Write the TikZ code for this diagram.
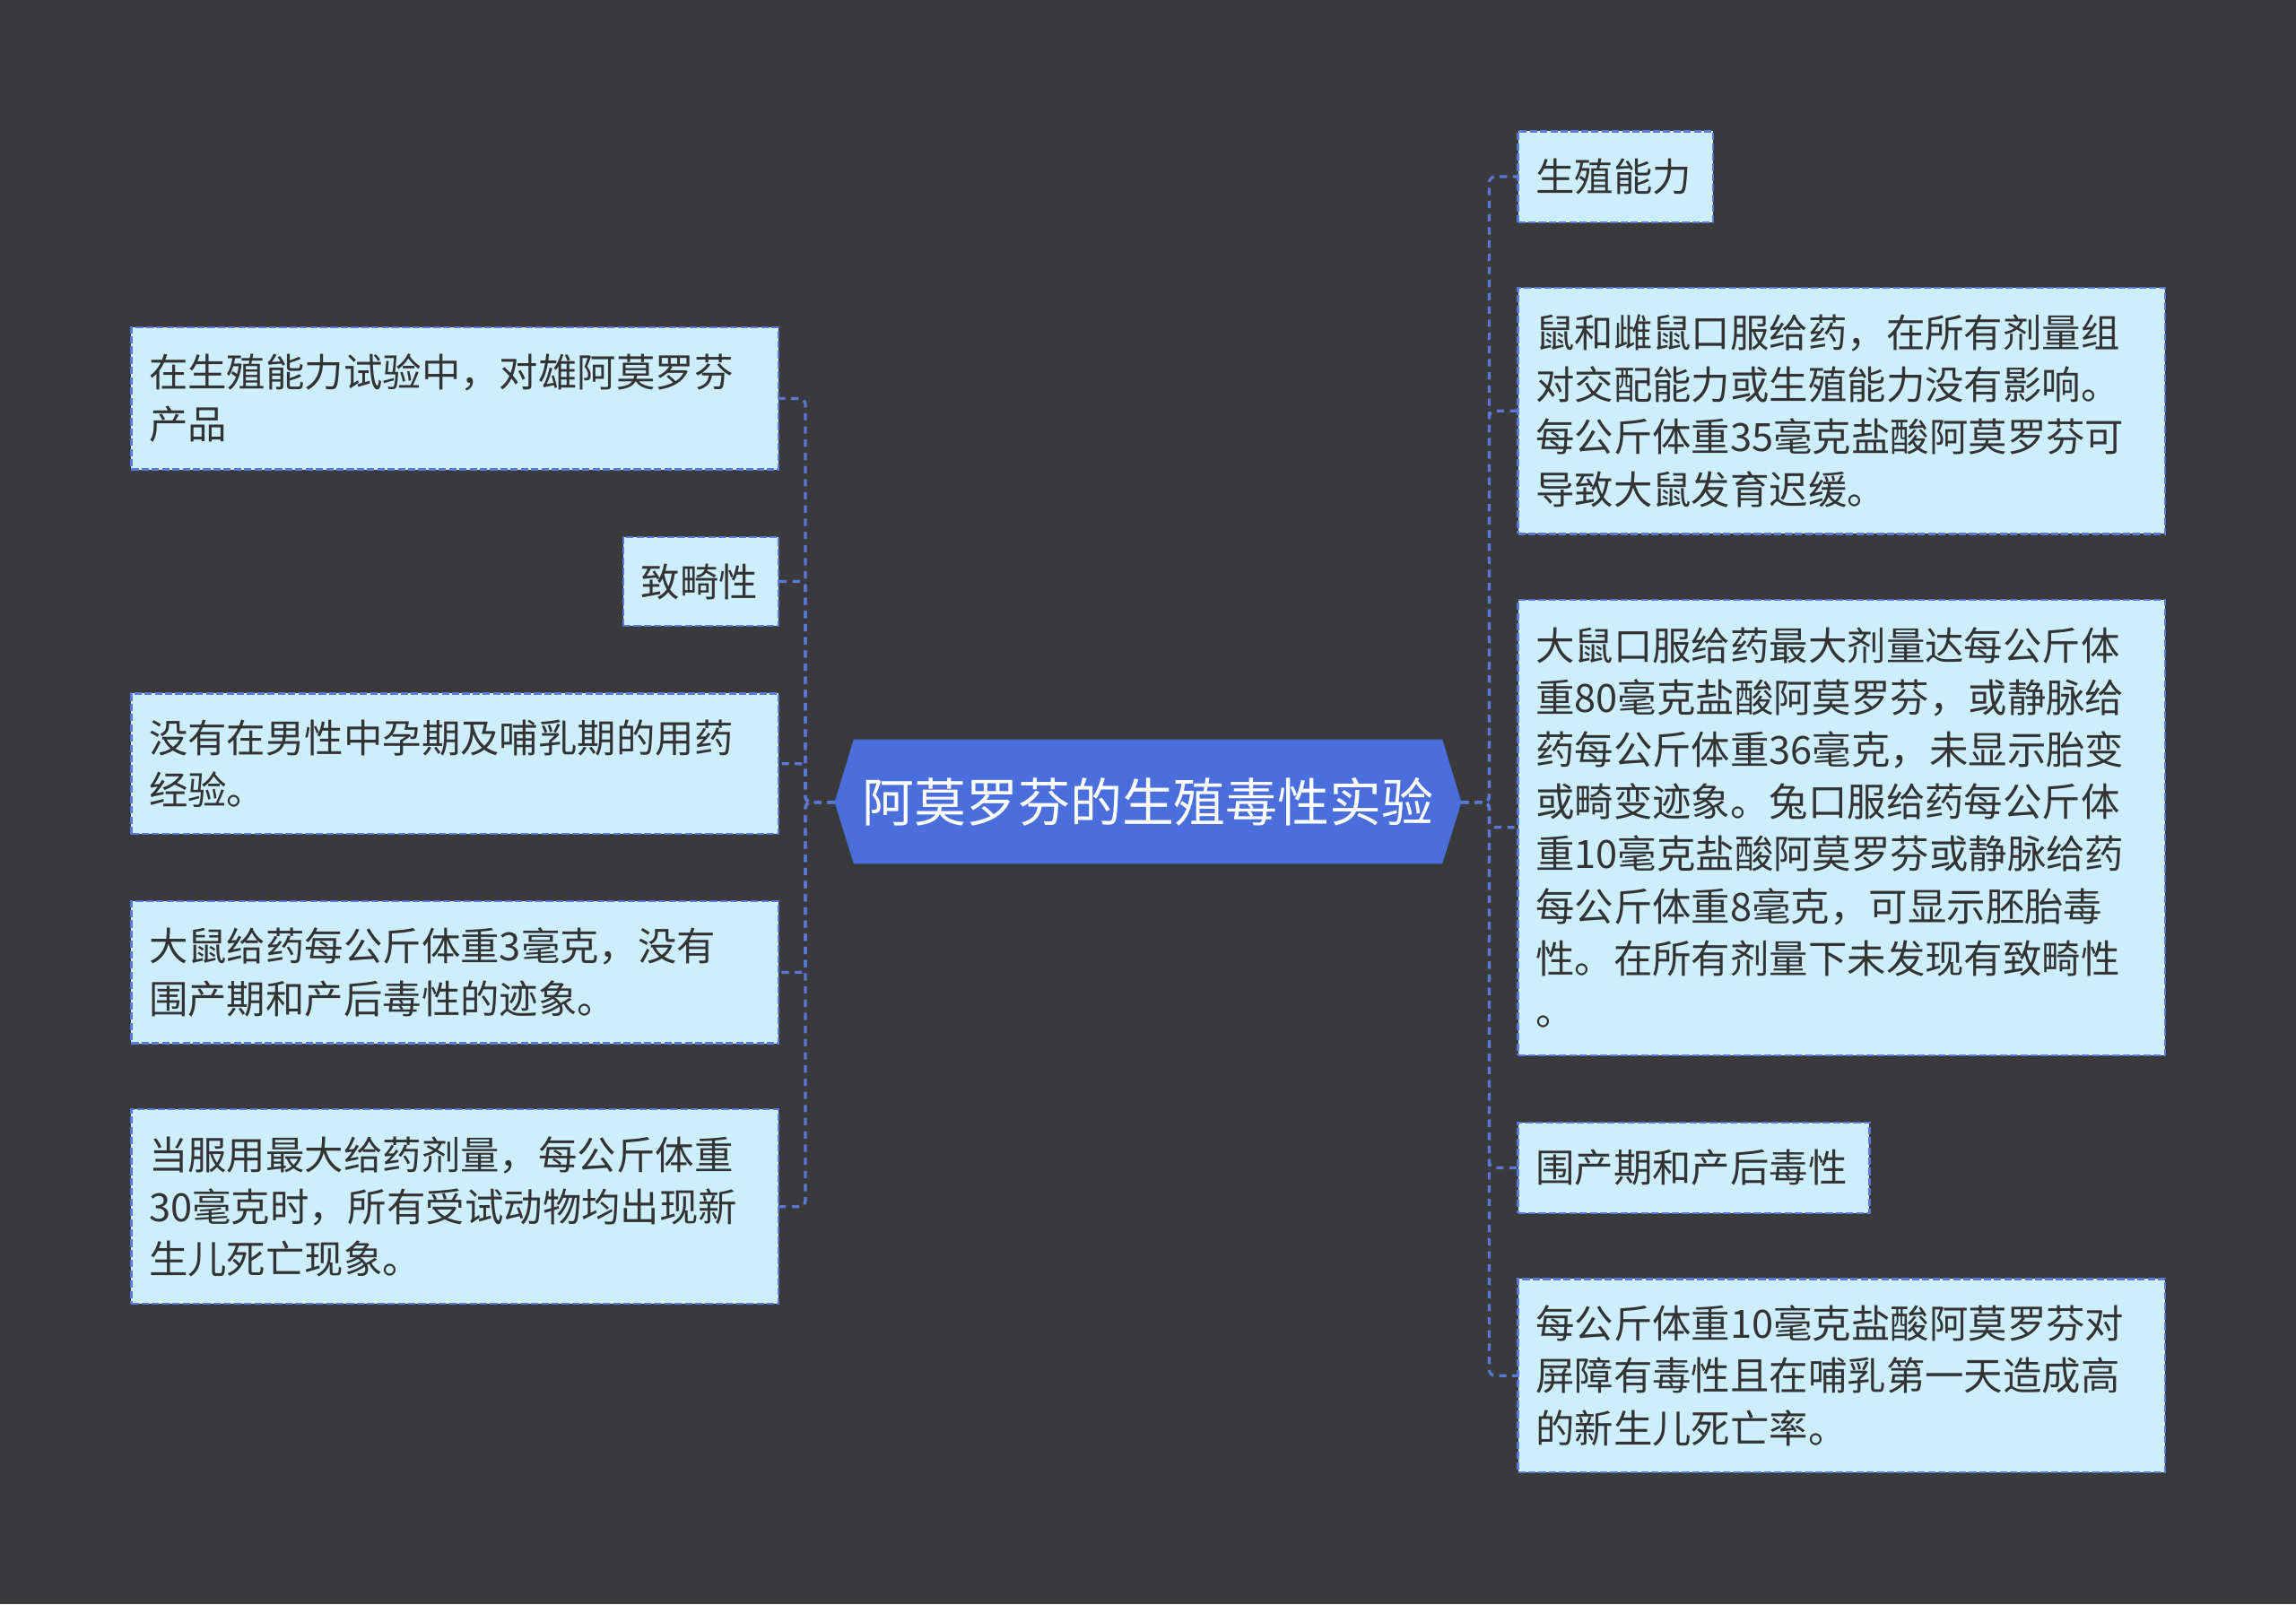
\documentclass[tikz,border=0pt]{standalone}
\usepackage{fontspec}
\setmainfont{Noto Sans CJK SC}
\begin{document}
\begin{tikzpicture}[x=1pt,y=-1pt,
  leaf/.style={draw=lnc,dash pattern=on 5pt off 2pt,fill=boxc,anchor=north west,inner sep=0pt,
    font=\fontsize{26.6}{35.6}\selectfont,text=txc,align=left,line width=1.4pt},
  conn/.style={draw=lnc,dash pattern=on 5pt off 4pt,line width=2pt,rounded corners=4pt}]
\definecolor{bgc}{HTML}{3A3A3C}
\definecolor{boxc}{HTML}{CDEFFD}
\definecolor{lnc}{HTML}{5A78D8}
\definecolor{txc}{HTML}{333333}
\definecolor{cenc}{HTML}{4A6FDC}
\fill[bgc] (0,0) rectangle (1568,1096);
\useasboundingbox (0,0) rectangle (1568,1096);
\newcommand{\leafbox}[6]{%
 \node[leaf,minimum width=#3-#2,minimum height=#5-#4,text width=#3-#2-24pt] (#1) at (#2,#4) {#6};}
% left
\leafbox{l1}{89}{531}{223}{320}{在生殖能力试验中，对雄阿莫罗芬\\产品}
\leafbox{l2}{425}{531}{366}{427}{致畸性}
\leafbox{l3}{89}{531}{473}{569}{没有在男性中孕期及哺乳期的用药\\经验。}
\leafbox{l4}{89}{531}{615}{712}{大鼠给药每公斤体重3毫克，没有\\围产期和产后毒性的迹象。}
\leafbox{l5}{89}{531}{757}{890}{当服用最大给药剂量，每公斤体重\\30毫克时，所有受试动物均出现新\\生儿死亡现象。}
% right
\leafbox{r1}{1036}{1169}{89}{151}{生殖能力}
\leafbox{r2}{1036}{1478}{196}{364}{鼠和雌鼠口服给药，在所有剂量组\\对交配能力或生殖能力没有影响。\\每公斤体重35毫克盐酸阿莫罗芬可\\导致大鼠发育迟缓。}
\leafbox{r3}{1036}{1478}{409}{720}{大鼠口服给药最大剂量达每公斤体\\重80毫克盐酸阿莫罗芬，或静脉给\\药每公斤体重36毫克，未显示胎变\\或畸变迹象。兔口服给药每公斤体\\重10毫克盐酸阿莫罗芬或静脉给药\\每公斤体重8毫克，可显示胚胎毒\\性。在所有剂量下未发现有致畸性\\。}
\leafbox{r4}{1036}{1276}{766}{828}{围产期和产后毒性}
\leafbox{r5}{1036}{1478}{873}{1005}{每公斤体重10毫克盐酸阿莫罗芬对\\屏障有毒性且在哺乳第一天造成高\\的新生儿死亡率。}
% center
\fill[cenc] (570,548) -- (583,505) -- (985,505) -- (998,548) -- (985,590) -- (583,590) -- cycle;
\node[text=white,font=\fontsize{35.5}{40}\selectfont,minimum width=428pt,minimum height=85pt] (c) at (784,548) {阿莫罗芬的生殖毒性实验};
\coordinate (cl) at (570,548);
\coordinate (cr) at (998,548);
% connectors
\foreach \n in {l1,l2,l3,l4,l5}{
  \draw[conn] (cl) -- (550,548) |- (\n.east);}
\foreach \n in {r1,r2,r3,r4,r5}{
  \draw[conn] (cr) -- (1017,548) |- (\n.west);}
\end{tikzpicture}
\end{document}
